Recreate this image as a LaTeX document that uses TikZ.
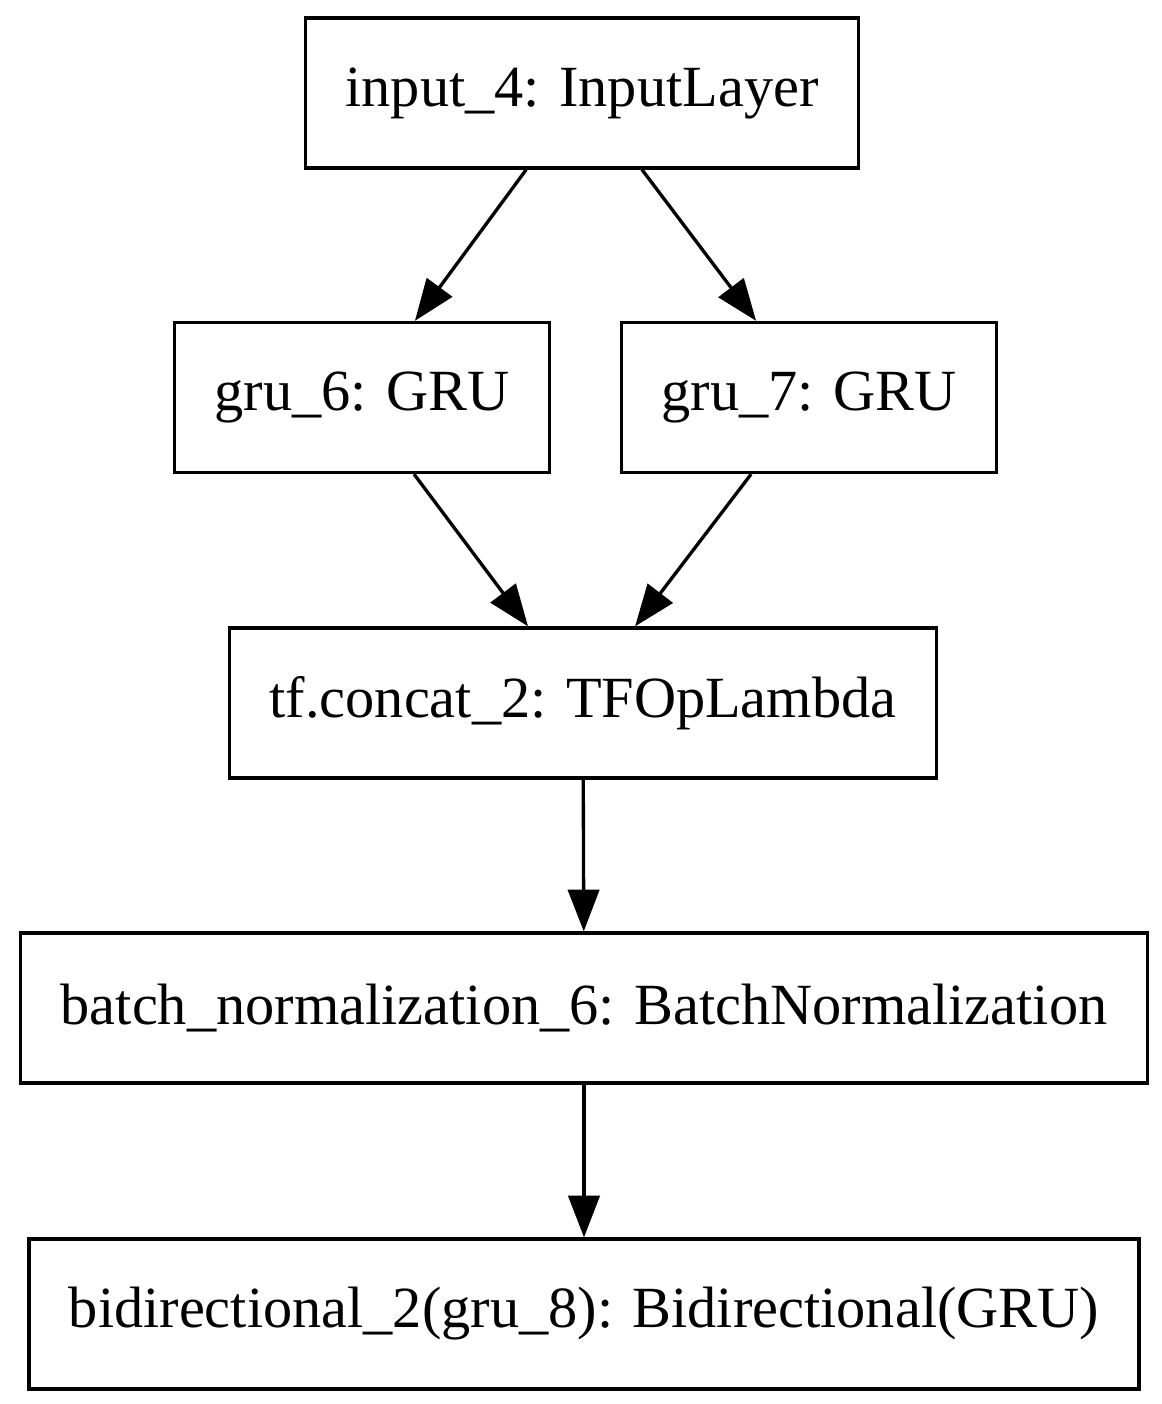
\documentclass[tikz,border=0pt]{standalone}
\usepackage{fontspec}
\setmainfont{Liberation Serif}
\usetikzlibrary{arrows.meta}

\begin{document}
\begin{tikzpicture}[x=0.24pt, y=-0.24pt, line width=0.8pt, >={Triangle[length=10pt,width=7.5pt]},
    layer/.style={draw, rectangle, inner xsep=9.6pt, minimum height=36pt, font=\fontsize{14}{16}\selectfont},
    flow/.style={->}]
  \useasboundingbox (0,0) rectangle (1162,1404);
  % graphviz-like layout, coordinates in pixels of the page
  \node[layer] (input)  at (582,93)   {input\_4: InputLayer};
  \node[layer] (gru6)   at (362,397.5) {gru\_6: GRU};
  \node[layer] (gru7)   at (809,397.5) {gru\_7: GRU};
  \node[layer] (concat) at (583,703)  {tf.concat\_2: TFOpLambda};
  \node[layer] (batch)  at (584,1008) {batch\_normalization\_6: BatchNormalization};
  \node[layer] (bidir)  at (584,1314) {bidirectional\_2(gru\_8): Bidirectional(GRU)};

  \draw[flow] ([xshift=-13.4pt]input.south) -- ([xshift=12.7pt]gru6.north);
  \draw[flow] ([xshift=14.4pt]input.south) -- ([xshift=-12.7pt]gru7.north);
  \draw[flow] ([xshift=12.5pt]gru6.south) -- ([xshift=-13.2pt]concat.north);
  \draw[flow] ([xshift=-13.9pt]gru7.south) -- ([xshift=12.5pt]concat.north);
  \draw[flow] (concat) -- (batch);
  \draw[flow] (batch) -- (bidir);
\end{tikzpicture}
\end{document}
